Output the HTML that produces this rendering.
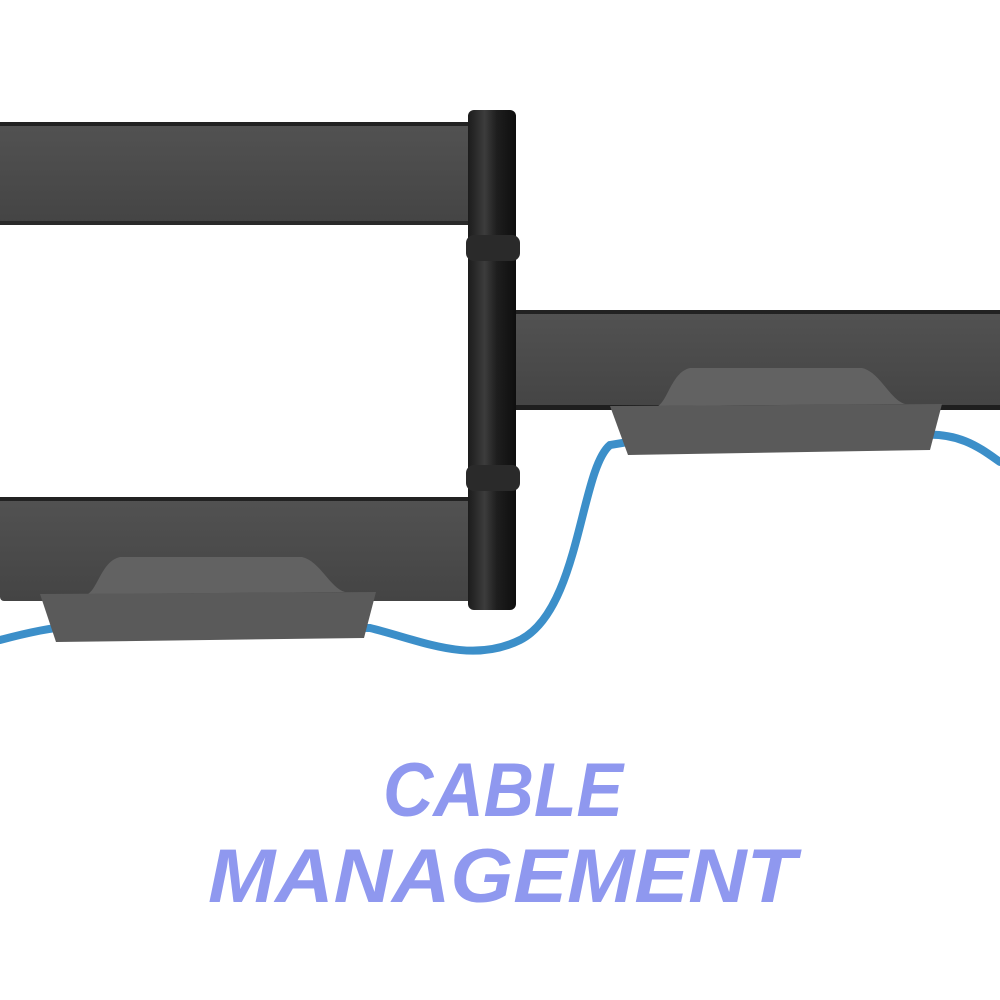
<!DOCTYPE html>
<html><head><meta charset="utf-8"><style>
html,body{margin:0;padding:0;background:#fff;}
svg{display:block}
</style></head><body>
<svg width="1000" height="1000" viewBox="0 0 1000 1000" xmlns="http://www.w3.org/2000/svg">
<defs>
<linearGradient id="post" x1="0" x2="1" y1="0" y2="0">
<stop offset="0" stop-color="#1c1c1c"/><stop offset="0.35" stop-color="#3c3c3c"/><stop offset="0.6" stop-color="#1e1e1e"/><stop offset="1" stop-color="#0e0e0e"/>
</linearGradient>
<linearGradient id="bar" x1="0" x2="0" y1="0" y2="1">
<stop offset="0" stop-color="#525252"/><stop offset="1" stop-color="#444"/>
</linearGradient>
</defs>
<rect x="0" y="122" width="492" height="103" rx="4" fill="url(#bar)"/>
<rect x="0" y="122" width="492" height="4" fill="#222"/>
<rect x="0" y="221" width="492" height="4" fill="#2a2a2a"/>
<rect x="0" y="497" width="492" height="104" rx="4" fill="url(#bar)"/>
<rect x="0" y="497" width="492" height="4" fill="#222"/>
<rect x="495" y="310" width="505" height="100" fill="url(#bar)"/>
<rect x="495" y="310" width="505" height="4" fill="#222"/>
<rect x="495" y="405" width="505" height="5" fill="#1e1e1e"/>
<rect x="468" y="110" width="48" height="500" rx="6" fill="url(#post)"/>
<rect x="466" y="235" width="54" height="26" rx="8" fill="#2a2a2a"/>
<rect x="466" y="465" width="54" height="26" rx="8" fill="#2a2a2a"/>
<path d="M0,640 C30,632 50,628 80,625 L370,628 C420,640 470,665 520,640 C580,610 580,470 610,445 L640,440 L920,435 C960,432 980,448 1000,462" fill="none" stroke="#3c8fc9" stroke-width="8" stroke-linecap="round"/>
<path d="M658,406 C668,400 672,372 690,368 L862,368 C880,372 890,400 905,404 Z" fill="#626262"/>
<path d="M610,406 L942,404 L930,450 L628,455 Z" fill="#5a5a5a"/>
<path d="M88,594 C98,588 102,561 120,557 L302,557 C320,561 330,588 345,592 Z" fill="#626262"/>
<path d="M40,594 L376,592 L364,638 L56,642 Z" fill="#5a5a5a"/>
<text x="503" y="816" text-anchor="middle" font-family="Liberation Sans, sans-serif" font-weight="bold" font-style="italic" font-size="76" fill="#8f98ef" textLength="240" lengthAdjust="spacingAndGlyphs">CABLE</text>
<text x="502" y="902" text-anchor="middle" font-family="Liberation Sans, sans-serif" font-weight="bold" font-style="italic" font-size="76" fill="#8f98ef" textLength="588" lengthAdjust="spacingAndGlyphs">MANAGEMENT</text>
</svg>
</body></html>
